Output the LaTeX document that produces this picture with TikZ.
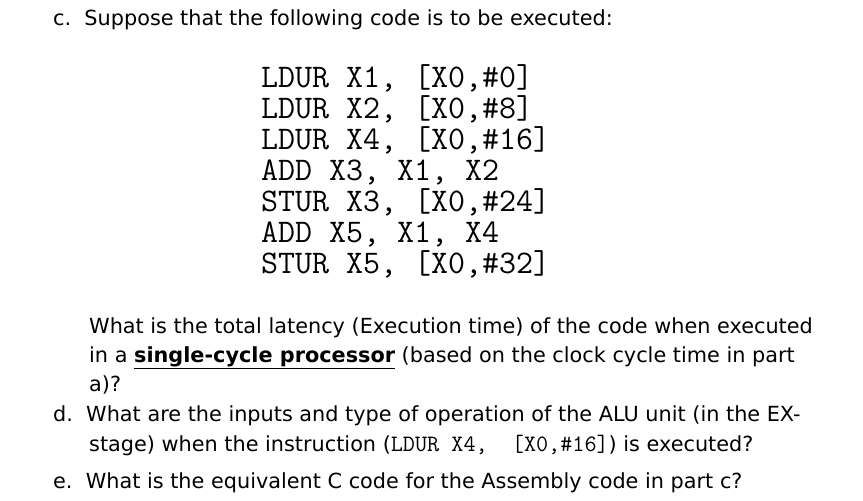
\documentclass[tikz,border=0pt]{standalone}
\usepackage{fontspec}
\setmainfont{DejaVu Sans}
\begin{document}
\begin{tikzpicture}[x=1pt,y=1pt,
  txt/.style={anchor=base west,inner sep=0pt,font=\fontsize{20.8}{29}\selectfont},
  code/.style={anchor=base west,inner sep=0pt,font=\fontsize{33}{31}\selectfont\ttfamily}]
\useasboundingbox[fill=white] (0,0) rectangle (863,-501);
\newcommand{\mc}[1]{{\fontsize{23.5}{29}\selectfont\ttfamily #1}}
\node[txt] (c) at (53,-25) {c.\ \ Suppose that the following code is to be executed:};
\node[code] (l1) at (261,-87) {LDUR X1, [X0,\#0]};
\node[code] (l2) at (261,-118) {LDUR X2, [X0,\#8]};
\node[code] (l3) at (261,-149) {LDUR X4, [X0,\#16]};
\node[code] (l4) at (261,-180) {ADD X3, X1, X2};
\node[code] (l5) at (261,-211) {STUR X3, [X0,\#24]};
\node[code] (l6) at (261,-242) {ADD X5, X1, X4};
\node[code] (l7) at (261,-273) {STUR X5, [X0,\#32]};
\node[txt] (p1) at (89,-333) {What is the total latency (Execution time) of the code when executed};
\node[txt] (p2) at (89,-362) {in a \underline{\textbf{single-cycle processor}} (based on the clock cycle time in part};
\node[txt] (p3) at (89,-391) {a)?};
\node[txt] (d1) at (53,-421) {d.\ \ What are the inputs and type of operation of the ALU unit (in the EX-};
\node[txt] (d2) at (89,-451) {stage) when the instruction (\mc{LDUR X4,\ \ [X0,\#16]}) is executed?};
\node[txt] (e1) at (53,-488) {e.\ \ What is the equivalent C code for the Assembly code in part c?};
\end{tikzpicture}
\end{document}
